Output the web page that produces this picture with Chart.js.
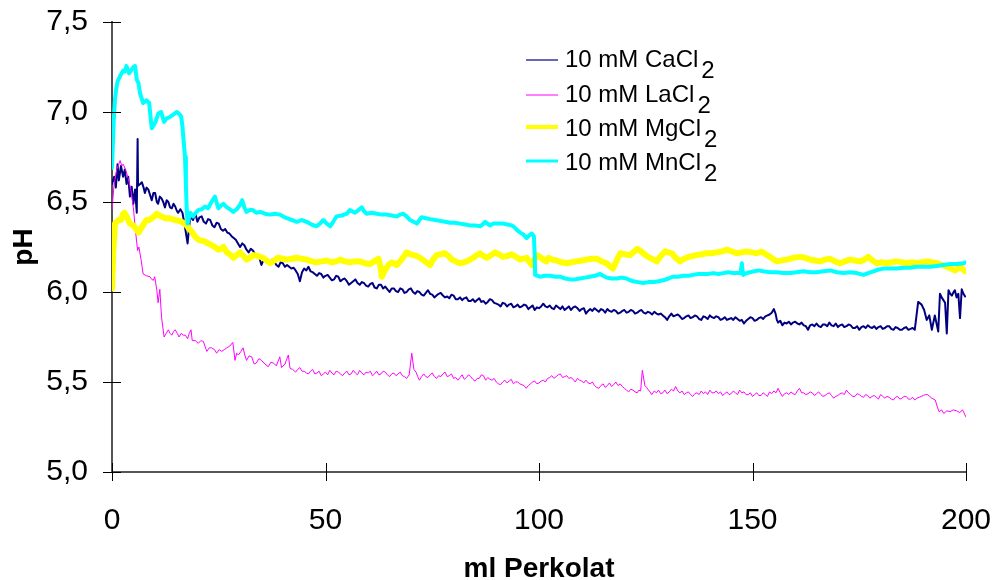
<!DOCTYPE html>
<html><head><meta charset="utf-8">
<script src="https://cdn.jsdelivr.net/npm/chart.js@4.4.1/dist/chart.umd.min.js"></script>
<style>html,body{margin:0;padding:0;background:#fff}canvas{display:block}</style>
</head><body>
<canvas id="c" width="993" height="580"></canvas>
<script>
const seriesNames = ['10 mM CaCl', '10 mM LaCl', '10 mM MgCl', '10 mM MnCl'];
const seriesSub = '2';
const xTicks = [0, 50, 100, 150, 200];
const xTickLabels = ['0', '50', '100', '150', '200'];
const yTicks = [5.0, 5.5, 6.0, 6.5, 7.0, 7.5];
const yTickLabels = ['5,0', '5,5', '6,0', '6,5', '7,0', '7,5'];
const xTitle = 'ml Perkolat';
const yTitle = 'pH';

const caCl2 = [[0,6.60],[0.5,6.64],[0.9,6.58],[1.3,6.71],[1.6,6.62],[2.1,6.70],[2.6,6.64],[3.0,6.68],[3.4,6.60],[3.8,6.64],[4.2,6.53],[4.6,6.585],[5.0,6.49],[5.4,6.57],[5.8,6.44],[6.0,6.85],[6.1,6.59],[6.6,6.60],[7.0,6.61],[7.4,6.58],[7.7,6.55],[8.1,6.58],[8.5,6.57],[8.9,6.54],[9.3,6.51],[9.7,6.55],[10.1,6.55],[10.5,6.50],[10.8,6.49],[11.2,6.53],[11.6,6.52],[12.0,6.50],[12.4,6.47],[12.8,6.51],[13.2,6.50],[13.6,6.47],[14.0,6.465],[14.4,6.49],[14.8,6.475],[15.2,6.45],[15.5,6.44],[16.0,6.46],[16.5,6.44],[17.1,6.36],[17.7,6.27],[18.3,6.42],[19.0,6.40],[19.5,6.44],
[20,6.39],[20.5,6.415],[21,6.42],[21.5,6.39],[22,6.38],[22.5,6.405],[23,6.40],[23.5,6.37],[24,6.36],[24.5,6.385],[25,6.38],[25.5,6.35],[26,6.34],[26.5,6.35],[27,6.33],[27.5,6.325],[28,6.31],[28.5,6.30],[29,6.29],[29.5,6.27],[30,6.25],[30.5,6.27],[31,6.26],[31.5,6.235],[32,6.22],[32.5,6.24],[33,6.23],[33.5,6.21],[34,6.20],[34.5,6.19],[35,6.15],[35.5,6.18],[36,6.19],[36.5,6.165],[37,6.16],[37.5,6.18],[38,6.17],[38.5,6.15],[39,6.14],[39.5,6.165],[40,6.16],[40.5,6.14],[41,6.15],[41.5,6.14],[42,6.13],[42.5,6.135],[43,6.12],[43.5,6.10],[44,6.06],[44.5,6.11],[45,6.13],[45.5,6.12],[46,6.14],[46.5,6.115],[47,6.11],[47.5,6.10],[48,6.09],[48.5,6.105],[49,6.10],[49.5,6.08],[50,6.09],[50.5,6.095],[51,6.08],[51.5,6.065],[52,6.07],[52.5,6.09],[53,6.085],[53.5,6.06],[54,6.07],[54.5,6.075],[55,6.06],[55.5,6.04],[56,6.05],[56.5,6.06],[57,6.07],[57.5,6.05],[58,6.04],[58.5,6.055],[59,6.05],[59.5,6.035],[60,6.03],[60.5,6.045],[61,6.05],[61.5,6.025],[62,6.02],[62.5,6.04],[63,6.04],[63.5,6.02],[64,6.03],[64.5,6.015],[65,6.00],[65.5,6.02],[66,6.02],[66.5,6.005],[67,6.00],[67.5,6.02],[68,6.015],[68.5,5.995],[69,6.00],[69.5,6.015],[70,6.02],[70.5,6.00],[71,5.99],[71.5,6.005],[72,6.00],[72.5,5.985],[73,5.98],[73.5,5.995],[74,6.01],[74.5,5.99],[75,5.985],[75.5,5.97],[76,5.98],[76.5,5.99],[77,5.995],[77.5,5.98],[78,5.97],[78.5,5.975],[79,5.965],[79.5,5.985],[80,5.98],[80.5,5.96],[81,5.96],[81.5,5.97],[82,5.955],[82.5,5.965],[83,5.97],[83.5,5.95],[84,5.95],[84.5,5.96],[85,5.945],[85.5,5.955],[86,5.965],[86.5,5.945],[87,5.95],[87.5,5.935],[88,5.945],[88.5,5.96],[89,5.955],[89.5,5.94],[90,5.935],[90.5,5.93],[91,5.92],[91.5,5.94],[92,5.935],[92.5,5.92],[93,5.93],[93.5,5.935],[94,5.915],[94.5,5.92],[95,5.93],[95.5,5.915],[96,5.92],[96.5,5.93],[97,5.925],[97.5,5.905],[98,5.915],[98.5,5.925],[99,5.90],[99.5,5.915],[100,5.91],[100.5,5.92],[101,5.935],[101.5,5.92],[102,5.915],[102.5,5.925],[103,5.91],[103.5,5.905],[104,5.925],[104.5,5.915],[105,5.905],[105.5,5.92],[106,5.90],[106.5,5.91],[107,5.92],[107.5,5.90],[108,5.915],[108.5,5.92],[109,5.91],[109.5,5.895],[110,5.905],[110.5,5.91],[111,5.88],[111.5,5.895],[112,5.905],[112.5,5.895],[113,5.91],[113.5,5.90],[114,5.89],[114.5,5.905],[115,5.90],[115.5,5.885],[116,5.905],[116.5,5.895],[117,5.89],[117.5,5.90],[118,5.895],[118.5,5.88],[119,5.885],[119.5,5.895],[120,5.90],[120.5,5.885],[121,5.89],[121.5,5.90],[122,5.895],[122.5,5.88],[123,5.885],[123.5,5.895],[124,5.90],[124.5,5.885],[125,5.88],[125.5,5.89],[126,5.885],[126.5,5.875],[127,5.89],[127.5,5.88],[128,5.875],[128.5,5.88],[129,5.87],[129.5,5.86],[130,5.845],[130.5,5.865],[131,5.88],[131.5,5.865],[132,5.87],[132.5,5.875],[133,5.865],[133.5,5.85],[134,5.855],[134.5,5.865],[135,5.87],[135.5,5.855],[136,5.86],[136.5,5.87],[137,5.865],[137.5,5.85],[138,5.845],[138.5,5.865],[139,5.86],[139.5,5.85],[140,5.87],[140.5,5.86],[141,5.855],[141.5,5.865],[142,5.86],[142.5,5.845],[143,5.85],[143.5,5.86],[144,5.845],[144.5,5.85],[145,5.855],[145.5,5.845],[146,5.86],[146.5,5.85],[147,5.84],[147.5,5.845],[148,5.825],[148.5,5.84],[149,5.85],[149.5,5.86],[150,5.855],[150.5,5.84],[151,5.845],[151.5,5.855],[152,5.86],[152.5,5.85],[153,5.865],[153.5,5.87],[154,5.875],[154.5,5.885],[155,5.905],[155.4,5.88],[155.7,5.845],[156,5.83],[156.5,5.84],[157,5.815],[157.5,5.83],[158,5.825],[158.5,5.835],[159,5.82],[159.5,5.83],[160,5.835],[160.5,5.825],[161,5.82],[161.5,5.83],[162,5.815],[162.5,5.81],[163,5.79],[163.5,5.815],[164,5.82],[164.5,5.81],[165,5.825],[165.5,5.81],[166,5.805],[166.5,5.82],[167,5.82],[167.5,5.81],[168,5.83],[168.5,5.815],[169,5.81],[169.5,5.825],[170,5.805],[170.5,5.815],[171,5.82],[171.5,5.805],[172,5.81],[172.5,5.82],[173,5.815],[173.5,5.80],[174,5.80],[174.5,5.81],[175,5.79],[175.5,5.805],[176,5.81],[176.5,5.80],[177,5.815],[177.5,5.805],[178,5.80],[178.5,5.81],[179,5.795],[179.5,5.805],[180,5.81],[180.5,5.795],[181,5.80],[181.5,5.81],[182,5.81],[182.5,5.795],[183,5.79],[183.5,5.805],[184,5.80],[184.5,5.79],[185,5.79],[185.5,5.80],[186,5.805],[186.5,5.79],[187,5.795],[187.5,5.80],[188,5.79],
[188.8,5.945],[189.6,5.93],[190.2,5.90],[190.8,5.845],[191.4,5.87],[192.0,5.79],[192.7,5.87],[193.5,5.78],[193.9,5.99],[194.3,5.97],[194.7,5.955],[195.1,5.94],[195.5,5.77],[195.9,6.01],[196.3,5.99],[196.7,5.98],[197.1,6.00],[197.4,6.01],[197.8,5.97],[198.2,5.99],[198.6,5.855],[199.0,6.015],[199.4,5.99],[199.8,5.975]];

const laCl2 = [[0,6.46],[0.5,6.60],[1.1,6.68],[1.9,6.73],[2.3,6.70],[2.6,6.71],[3.2,6.68],[3.8,6.63],[4.4,6.57],[5.0,6.47],[5.5,6.34],[6.0,6.23],[6.3,6.25],[6.8,6.18],[7.3,6.10],[8.1,6.09],[8.9,6.085],[9.3,6.07],[9.7,6.065],[10.0,6.085],[10.5,6.01],[10.8,5.94],[11.2,6.015],[11.6,5.86],[12.2,5.75],[12.7,5.77],[13.2,5.79],[13.6,5.77],[14.0,5.76],[14.4,5.78],[14.8,5.79],[15.3,5.77],[15.7,5.75],[16.2,5.77],[16.7,5.76],[17.2,5.76],[17.7,5.74],[18.1,5.77],[18.5,5.79],[18.8,5.73],[19.5,5.73],[20.2,5.715],[20.8,5.73],[21.4,5.725],[22.2,5.67],[22.8,5.69],[23.3,5.69],[24.0,5.68],[24.5,5.66],[25.1,5.68],[25.7,5.67],[26.3,5.68],[26.9,5.69],[27.6,5.70],[28.3,5.72],[28.8,5.62],[29.2,5.66],[29.6,5.65],[30.2,5.67],[30.7,5.69],[31.1,5.65],[31.5,5.62],[32.1,5.645],[32.7,5.64],[33.3,5.60],[33.8,5.605],[34.4,5.63],[35.0,5.62],[35.8,5.60],[36.6,5.585],[37.2,5.61],[37.8,5.605],[38.5,5.59],[39.3,5.64],[39.7,5.58],[40.5,5.60],[41.3,5.65],[41.7,5.575],[42.3,5.57],
[43,5.555],[43.5,5.57],[44,5.58],[44.5,5.56],[45,5.56],[45.5,5.55],[46,5.545],[46.5,5.56],[47,5.57],[47.5,5.545],[48,5.55],[48.5,5.56],[49,5.535],[49.5,5.545],[50,5.555],[50.5,5.54],[51,5.565],[51.5,5.55],[52,5.54],[52.5,5.56],[53,5.555],[53.5,5.545],[54,5.535],[54.5,5.55],[55,5.56],[55.5,5.54],[56,5.545],[56.5,5.565],[57,5.55],[57.5,5.54],[58,5.565],[58.5,5.55],[59,5.54],[59.5,5.555],[60,5.55],[60.5,5.56],[61,5.535],[61.5,5.545],[62,5.56],[62.5,5.54],[63,5.545],[63.5,5.56],[64,5.555],[64.5,5.54],[65,5.53],[65.5,5.545],[66,5.55],[66.5,5.535],[67,5.545],[67.5,5.555],[68,5.535],[68.5,5.53],[69,5.52],[69.6,5.54],[70.2,5.66],[70.7,5.57],[71.2,5.555],[71.6,5.53],[72,5.51],[72.5,5.53],[73,5.545],[73.5,5.53],[74,5.525],[74.5,5.54],[75,5.55],[75.5,5.53],[76,5.52],[76.5,5.535],[77,5.53],[77.5,5.545],[78,5.555],[78.5,5.53],[79,5.535],[79.5,5.545],[80,5.52],[80.5,5.525],[81,5.51],[81.5,5.525],[82,5.54],[82.5,5.515],[83,5.525],[83.5,5.54],[84,5.53],[84.5,5.515],[85,5.505],[85.5,5.52],[86,5.52],[86.5,5.54],[87,5.535],[87.5,5.51],[88,5.525],[88.5,5.515],[89,5.51],[89.5,5.52],[90,5.50],[90.5,5.49],[91,5.485],[91.5,5.50],[92,5.51],[92.5,5.495],[93,5.505],[93.5,5.515],[94,5.49],[94.5,5.50],[95,5.50],[95.5,5.49],[96,5.485],[96.5,5.48],[97,5.465],[97.5,5.48],[98,5.49],[98.5,5.50],[99,5.505],[99.5,5.49],[100,5.495],[100.5,5.505],[101,5.51],[101.5,5.50],[102,5.52],[102.5,5.525],[103,5.535],[103.5,5.52],[104,5.53],[104.5,5.54],[105,5.545],[105.5,5.525],[106,5.53],[106.5,5.535],[107,5.52],[107.5,5.525],[108,5.515],[108.5,5.50],[109,5.52],[109.5,5.51],[110,5.505],[110.5,5.495],[111,5.51],[111.5,5.495],[112,5.49],[112.5,5.50],[113,5.48],[113.5,5.47],[114,5.465],[114.5,5.48],[115,5.49],[115.5,5.47],[116,5.48],[116.5,5.495],[117,5.475],[117.5,5.485],[118,5.50],[118.5,5.48],[119,5.49],[119.5,5.475],[120,5.465],[120.5,5.455],[121,5.445],[121.5,5.46],[122,5.455],[122.5,5.445],[123,5.44],[123.4,5.455],[123.8,5.45],[124.2,5.565],[124.8,5.48],[125.2,5.47],[125.5,5.46],[126,5.445],[126.4,5.43],[127,5.45],[127.5,5.44],[128,5.455],[128.5,5.435],[129,5.44],[129.5,5.455],[130,5.435],[130.5,5.445],[131,5.46],[131.5,5.45],[132,5.475],[132.5,5.45],[133,5.44],[133.5,5.45],[134,5.43],[134.5,5.44],[135,5.445],[135.5,5.43],[136,5.42],[136.5,5.435],[137,5.44],[137.5,5.43],[138,5.45],[138.5,5.435],[139,5.445],[139.5,5.43],[140,5.455],[140.5,5.44],[141,5.44],[141.5,5.45],[142,5.435],[142.5,5.445],[143,5.425],[143.5,5.435],[144,5.445],[144.5,5.43],[145,5.435],[145.5,5.45],[146,5.44],[146.5,5.43],[147,5.455],[147.5,5.44],[148,5.445],[148.5,5.43],[149,5.43],[149.5,5.44],[150,5.42],[150.5,5.43],[151,5.44],[151.5,5.425],[152,5.425],[152.5,5.44],[153,5.43],[153.5,5.42],[154,5.445],[154.5,5.435],[155,5.45],[155.5,5.44],[156,5.465],[156.5,5.44],[157,5.42],[157.5,5.435],[158,5.44],[158.5,5.43],[159,5.445],[159.5,5.435],[160,5.43],[160.5,5.45],[161,5.465],[161.5,5.44],[162,5.44],[162.5,5.43],[163,5.435],[163.5,5.445],[164,5.44],[164.5,5.425],[165,5.435],[165.5,5.445],[166,5.43],[166.5,5.42],[167,5.425],[167.5,5.435],[168,5.44],[168.5,5.425],[169,5.41],[169.5,5.42],[170,5.425],[170.5,5.435],[171,5.44],[171.5,5.43],[172,5.455],[172.5,5.44],[173,5.43],[173.5,5.42],[174,5.42],[174.5,5.435],[175,5.43],[175.5,5.42],[176,5.415],[176.5,5.43],[177,5.425],[177.5,5.41],[178,5.42],[178.5,5.425],[179,5.415],[179.5,5.405],[180,5.43],[180.5,5.42],[181,5.41],[181.5,5.42],[182,5.415],[182.5,5.405],[183,5.40],[183.5,5.415],[184,5.42],[184.5,5.405],[185,5.41],[185.5,5.42],[186,5.42],[186.5,5.405],[187,5.405],[187.5,5.415],[188,5.40],[188.5,5.41],[189,5.415],[189.5,5.42],[190,5.425],[190.5,5.43],[191,5.43],[191.5,5.42],[192,5.41],
[192.8,5.40],[193.3,5.36],[193.7,5.335],[194.3,5.345],[194.8,5.325],[195.5,5.34],[196.3,5.335],[197,5.345],[197.8,5.34],[198.5,5.33],[199.2,5.345],[200,5.305]];

const mgCl2 = [[0,6.02],[0.3,6.23],[0.7,6.38],[1.1,6.39],[1.5,6.40],[2.1,6.40],[2.5,6.43],[2.9,6.44],[3.4,6.42],[3.8,6.40],[4.2,6.38],[5.0,6.37],[5.6,6.35],[6.2,6.33],[7.0,6.36],[7.5,6.38],[8.1,6.40],[8.7,6.40],[9.3,6.41],[9.9,6.42],[10.5,6.435],[11.0,6.425],[11.6,6.42],[12.4,6.41],[13.2,6.41],[14.0,6.405],[14.8,6.40],[15.6,6.395],[16.3,6.39],[17.0,6.38],[17.5,6.37],[18.1,6.35],[18.7,6.335],[19.4,6.31],[20.2,6.29],[21.0,6.285],[21.8,6.28],[22.5,6.27],[23.3,6.26],[24.1,6.25],[24.9,6.235],[25.5,6.24],[26.1,6.25],[26.9,6.22],[27.6,6.21],[28.4,6.19],[29.2,6.205],[30.0,6.22],[30.8,6.20],[31.5,6.18],[32.3,6.19],[33.1,6.205],[34.2,6.20],[35.4,6.19],[36.2,6.175],[37.0,6.16],[38.0,6.175],[38.9,6.19],[39.9,6.185],[40.9,6.18],[42.1,6.185],[43.3,6.19],[44.4,6.185],[45.6,6.18],[46.8,6.17],[47.9,6.165],[49.1,6.17],[50.3,6.175],[51.5,6.165],[52.6,6.17],[53.4,6.18],[54.5,6.17],[55.7,6.165],[56.9,6.17],[58.1,6.17],[59.2,6.16],[60.4,6.155],[61.4,6.17],[62.4,6.185],[62.8,6.15],[63.2,6.085],[63.9,6.12],[64.7,6.15],[65.5,6.165],[66.7,6.15],[67.8,6.18],[68.4,6.20],[69.0,6.22],[69.8,6.21],[70.6,6.205],[71.4,6.20],[72.1,6.19],[73.3,6.17],[74.5,6.15],[75.2,6.18],[76.0,6.205],[77.0,6.21],[78.0,6.215],[78.8,6.20],[79.6,6.18],[80.5,6.17],[81.5,6.16],[82.3,6.165],[83.1,6.17],[83.8,6.18],[84.6,6.19],[85.4,6.205],[86.2,6.215],[87.0,6.20],[87.8,6.19],[88.8,6.205],[89.7,6.22],[90.6,6.21],[91.6,6.195],[92.6,6.20],[93.6,6.21],[94.6,6.195],[95.6,6.18],[96.3,6.185],[97.1,6.19],[97.7,6.17],[98.3,6.15],[98.9,6.18],[99.5,6.205],[100.2,6.195],[101.0,6.18],[101.7,6.17],[102.2,6.19],[103.1,6.18],[104.1,6.175],[105.3,6.165],[106.5,6.16],[107.6,6.165],[108.8,6.17],[110.0,6.175],[111.2,6.18],[112.3,6.185],[113.5,6.185],[114.7,6.17],[115.8,6.16],[116.5,6.145],[117.3,6.13],[118.1,6.17],[119.0,6.215],[120.1,6.21],[121.3,6.205],[122.1,6.22],[123.0,6.24],[123.7,6.23],[124.4,6.215],[125.2,6.20],[126.0,6.19],[126.8,6.18],[127.6,6.17],[128.5,6.20],[129.5,6.225],[130.3,6.22],[131.1,6.215],[132.0,6.19],[133.0,6.17],[134.0,6.185],[135.0,6.195],[136.0,6.20],[136.9,6.205],[138.1,6.21],[139.3,6.215],[140.4,6.215],[141.6,6.22],[142.8,6.225],[144.0,6.235],[145.2,6.225],[146.3,6.215],[147.5,6.22],[148.7,6.225],[149.8,6.22],[151.0,6.215],[152.1,6.225],[153.1,6.21],[154.1,6.195],[155.0,6.18],[155.7,6.17],[156.8,6.175],[158.0,6.18],[159.5,6.19],[161.1,6.195],[162.3,6.19],[163.5,6.18],[164.6,6.175],[165.8,6.17],[167.0,6.18],[168.1,6.185],[169.3,6.17],[170.5,6.16],[171.6,6.17],[172.8,6.18],[174.0,6.175],[175.2,6.17],[176.2,6.18],[177.1,6.195],[178.1,6.175],[179.1,6.16],[180.3,6.165],[181.5,6.16],[182.6,6.165],[183.8,6.17],[185.0,6.165],[186.2,6.16],[187.3,6.165],[188.5,6.16],[189.7,6.165],[190.9,6.17],[192.0,6.165],[193.2,6.16],[194.4,6.15],[195.6,6.14],[196.5,6.13],[197.5,6.12],[198.1,6.13],[198.7,6.14],[199.3,6.125],[199.8,6.115]];

const mnCl2 = [[0,6.69],[0.4,6.95],[0.7,7.07],[1.0,7.13],[1.3,7.17],[1.9,7.20],[2.6,7.23],[3.0,7.225],[3.4,7.255],[4.0,7.215],[4.6,7.235],[5.0,7.25],[5.4,7.255],[5.8,7.18],[6.2,7.16],[6.6,7.10],[7.3,7.05],[8.1,7.065],[8.7,7.05],[9.0,6.98],[9.3,6.91],[10.1,6.94],[10.8,6.99],[11.5,7.00],[12.2,6.945],[12.8,6.965],[13.4,6.97],[14.0,6.98],[14.6,6.99],[15.2,7.00],[15.7,6.99],[16.2,6.975],[16.5,6.92],[16.7,6.86],[17.1,6.75],[17.3,6.60],[17.5,6.46],[17.7,6.38],[18.3,6.44],[19.0,6.42],[19.6,6.44],[20.2,6.455],[21.0,6.46],[21.8,6.475],[22.5,6.465],[23.3,6.50],[24.1,6.53],[24.9,6.465],[25.5,6.48],[26.1,6.49],[26.9,6.47],[27.6,6.46],[28.4,6.445],[29.2,6.46],[30.0,6.485],[30.5,6.51],[31.0,6.47],[31.5,6.445],[32.2,6.455],[33.0,6.455],[33.8,6.44],[34.7,6.445],[35.8,6.435],[37.0,6.43],[38.1,6.435],[39.3,6.43],[40.1,6.42],[40.9,6.41],[42.1,6.40],[43.3,6.39],[44.4,6.40],[45.6,6.39],[46.7,6.375],[47.9,6.365],[48.7,6.38],[49.5,6.40],[50.3,6.38],[51.1,6.365],[51.8,6.39],[52.6,6.42],[53.8,6.425],[55.0,6.435],[55.7,6.455],[56.9,6.44],[57.7,6.455],[58.5,6.47],[59.0,6.45],[59.6,6.435],[60.8,6.44],[62.0,6.435],[63.2,6.43],[64.3,6.43],[65.5,6.425],[66.7,6.42],[67.5,6.43],[68.2,6.435],[69.0,6.42],[69.8,6.40],[70.6,6.39],[71.4,6.38],[72.0,6.40],[72.5,6.415],[73.5,6.41],[74.5,6.405],[75.7,6.40],[76.8,6.395],[78.0,6.39],[79.2,6.385],[80.3,6.385],[81.5,6.38],[82.7,6.375],[83.8,6.37],[85.0,6.37],[86.2,6.365],[86.8,6.375],[87.4,6.39],[88.5,6.37],[89.3,6.38],[90.1,6.38],[91.6,6.38],[92.6,6.375],[93.6,6.37],[94.2,6.36],[94.8,6.345],[95.6,6.33],[96.3,6.32],[97.1,6.30],[97.7,6.315],[98.3,6.325],[98.8,6.31],[99.0,6.20],[99.1,6.095],[100.2,6.085],[101.4,6.09],[102.6,6.09],[103.8,6.085],[104.9,6.085],[106.1,6.075],[107.3,6.07],[108.5,6.07],[109.6,6.075],[110.8,6.08],[111.9,6.085],[113.1,6.09],[114.3,6.10],[115.0,6.09],[115.8,6.08],[117.0,6.075],[118.2,6.075],[119.3,6.08],[120.5,6.075],[121.3,6.065],[122.1,6.06],[123.2,6.055],[124.4,6.05],[125.6,6.055],[126.8,6.055],[128.0,6.06],[129.1,6.065],[130.3,6.075],[131.4,6.085],[132.6,6.085],[133.8,6.09],[135.0,6.09],[136.1,6.095],[137.3,6.10],[138.5,6.10],[139.6,6.10],[140.8,6.105],[142.0,6.10],[143.2,6.105],[144.3,6.11],[145.5,6.105],[146.6,6.105],[147.2,6.105],[147.5,6.16],[147.8,6.095],[148.6,6.105],[149.4,6.11],[150.4,6.115],[151.4,6.12],[152.5,6.115],[154.1,6.11],[155.7,6.11],[157.2,6.105],[158.8,6.105],[160.3,6.11],[161.9,6.115],[163.5,6.11],[165.1,6.11],[166.6,6.115],[168.2,6.12],[169.8,6.11],[171.3,6.105],[172.9,6.11],[174.4,6.105],[176.0,6.095],[177.1,6.105],[178.3,6.115],[179.5,6.125],[180.7,6.13],[182.2,6.13],[183.8,6.13],[185.3,6.135],[186.9,6.135],[188.4,6.14],[190.0,6.14],[191.6,6.14],[193.1,6.145],[194.7,6.15],[196.3,6.155],[197.8,6.155],[199.4,6.16],[200,6.165]];

const seriesData = [caCl2, laCl2, mgCl2, mnCl2];
const seriesColors = ['#000080', '#FF00FF', '#FFFF00', '#00FFFF'];
const lineWidths = [2, 1, 6, 4];
const legendWidths = [1.2, 1, 4, 3];
const drawOrder = [4, 3, 2, 1];

const FONT = "'Liberation Sans', Arial, sans-serif";

const axisTickMarks = {
  id: 'axisTickMarks',
  afterDatasetsDraw(chart) {
    const ctx = chart.ctx, xs = chart.scales.x, ys = chart.scales.y;
    ctx.save();
    ctx.strokeStyle = '#000';
    ctx.lineWidth = 1;
    ctx.beginPath();
    const ax = Math.round(ys.right);
    yTicks.forEach(v => {
      const p = Math.round(ys.getPixelForValue(v)) + 0.5;
      ctx.moveTo(ax - 9, p); ctx.lineTo(ax + 9, p);
    });
    const ay = Math.round(xs.top);
    xTicks.forEach(v => {
      const p = Math.round(xs.getPixelForValue(v)) + 0.5;
      ctx.moveTo(p, ay - 9); ctx.lineTo(p, ay + 9);
    });
    ctx.stroke();
    ctx.restore();
  }
};

const subLegend = {
  id: 'subLegend',
  afterDraw(chart) {
    const ctx = chart.ctx;
    const lineY = [60, 95, 127, 161];
    const baseY = [67, 102, 136, 170];
    ctx.save();
    chart.data.datasets.forEach((ds, i) => {
      ctx.strokeStyle = ds.borderColor;
      ctx.lineWidth = legendWidths[i];
      ctx.beginPath();
      ctx.moveTo(526, lineY[i]);
      ctx.lineTo(558, lineY[i]);
      ctx.stroke();
      ctx.fillStyle = '#000';
      ctx.font = '24px ' + FONT;
      ctx.textAlign = 'left';
      ctx.textBaseline = 'alphabetic';
      ctx.fillText(seriesNames[i], 565, baseY[i]);
      const w = ctx.measureText(seriesNames[i]).width;
      ctx.fillText(seriesSub, 565 + w + 3, baseY[i] + 11);
    });
    ctx.restore();
  }
};

new Chart(document.getElementById('c'), {
  type: 'scatter',
  data: {
    datasets: seriesData.map((pts, i) => ({
      label: seriesNames[i] + seriesSub,
      data: pts.map(p => ({ x: p[0], y: p[1] })),
      showLine: true,
      borderColor: seriesColors[i],
      backgroundColor: seriesColors[i],
      borderWidth: lineWidths[i],
      pointRadius: 0,
      pointHoverRadius: 0,
      tension: 0,
      borderJoinStyle: 'round',
      borderCapStyle: 'round',
      order: drawOrder[i]
    }))
  },
  options: {
    responsive: false,
    animation: false,
    devicePixelRatio: 1,
    layout: { padding: { left: 0, right: 27, top: 22, bottom: 0 } },
    plugins: { legend: { display: false }, tooltip: { enabled: false } },
    scales: {
      x: {
        type: 'linear', min: 0, max: 200,
        afterFit(s) { s.height = 108; s.paddingLeft = 0; s.paddingRight = 0; },
        afterBuildTicks(s) { s.ticks = xTicks.map(v => ({ value: v })); },
        grid: { display: false, drawTicks: false },
        border: { display: true, color: '#555', width: 2 },
        ticks: {
          padding: 31, color: '#000', font: { family: FONT, size: 30 },
          maxRotation: 0,
          callback: (v) => xTickLabels[xTicks.indexOf(v)]
        },
        title: {
          display: true, text: xTitle, color: '#000',
          font: { family: FONT, size: 28, weight: 'bold', lineHeight: 1 },
          padding: { top: 0, bottom: -3 }
        }
      },
      y: {
        type: 'linear', min: 5, max: 7.5,
        afterFit(s) { s.width = 112; s.paddingTop = 0; s.paddingBottom = 0; },
        afterBuildTicks(s) { s.ticks = yTicks.map(v => ({ value: v })); },
        grid: { display: false, drawTicks: false },
        border: { display: true, color: '#555', width: 2 },
        ticks: {
          padding: 24, color: '#000', font: { family: FONT, size: 30 },
          callback: (v) => yTickLabels[yTicks.findIndex(t => Math.abs(t - v) < 1e-9)]
        },
        title: {
          display: true, text: yTitle, color: '#000',
          font: { family: FONT, size: 28, weight: 'bold', lineHeight: 1 },
          padding: { top: 10, bottom: 0 }
        }
      }
    }
  },
  plugins: [axisTickMarks, subLegend]
});
</script>
</body></html>
